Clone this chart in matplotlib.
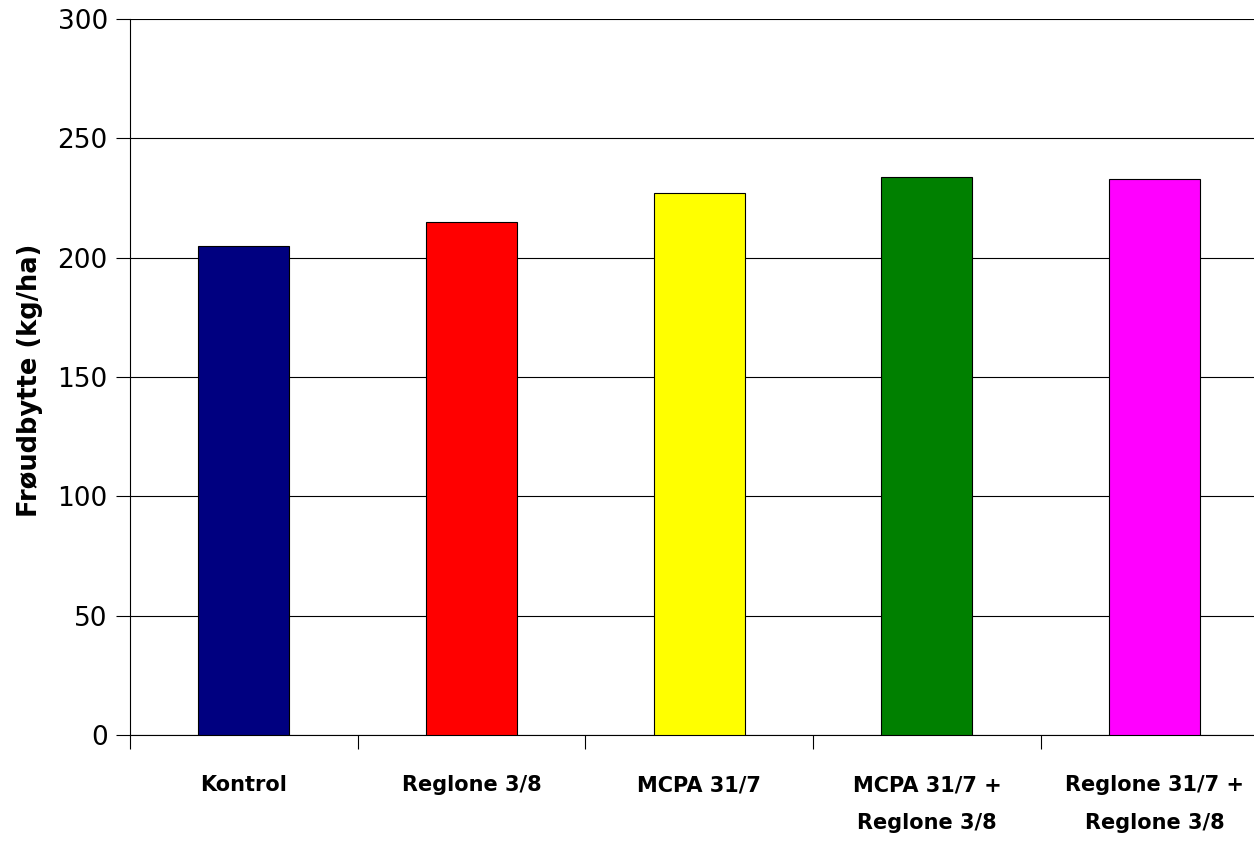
import numpy as np
import matplotlib
matplotlib.use("Agg")
import matplotlib.pyplot as plt

# data
categories = ['Kontrol', 'Reglone 3/8', 'MCPA 31/7', 'MCPA 31/7 +\nReglone 3/8', 'Reglone 31/7 +\nReglone 3/8']
yields = [205, 215, 227, 234, 233]
bar_colors = ['#000080', '#FF0000', '#FFFF00', '#008000', '#FF00FF']
y_ticks = [0, 50, 100, 150, 200, 250, 300]

plt.rcParams['font.family'] = ['DejaVu Sans']

fig = plt.figure(figsize=(12.54, 8.42), dpi=100)
# axes run slightly past the right edge, as in the reference
ax = fig.add_axes([130 / 1254, 1 - 735 / 842, 1138.5 / 1254, (735 - 19) / 842])

idx = np.arange(len(categories))
ax.bar(idx, yields, width=0.40, color=bar_colors, edgecolor='black', linewidth=0.8, zorder=3)

ax.set_xlim(-0.5, len(categories) - 0.5)
ax.set_ylim(0, 300)
ax.set_yticks(y_ticks)
ax.yaxis.grid(True, color='black', linewidth=0.8, zorder=0)

# category ticks sit between the bars, labels under the bars
ax.set_xticks(np.arange(len(categories) + 1) - 0.5)
ax.set_xticklabels([])
ax.set_xticks(idx, minor=True)
ax.set_xticklabels(categories, minor=True, fontsize=15, fontweight='bold', linespacing=2.1, va='top')
ax.tick_params(axis='x', which='minor', length=0, pad=29)
ax.tick_params(axis='x', which='major', length=10, width=0.8, direction='out')
ax.tick_params(axis='y', length=10, width=0.8, direction='out', labelsize=19, pad=6)

for s in ['top', 'right']:
    ax.spines[s].set_visible(False)
ax.spines['left'].set_linewidth(0.8)
ax.spines['bottom'].set_linewidth(0.8)

ax.set_ylabel('Frøudbytte (kg/ha)', fontsize=18.5, fontweight='bold')
ax.yaxis.set_label_coords(-0.0764, 0.496)

plt.savefig('out.png', dpi=100)
